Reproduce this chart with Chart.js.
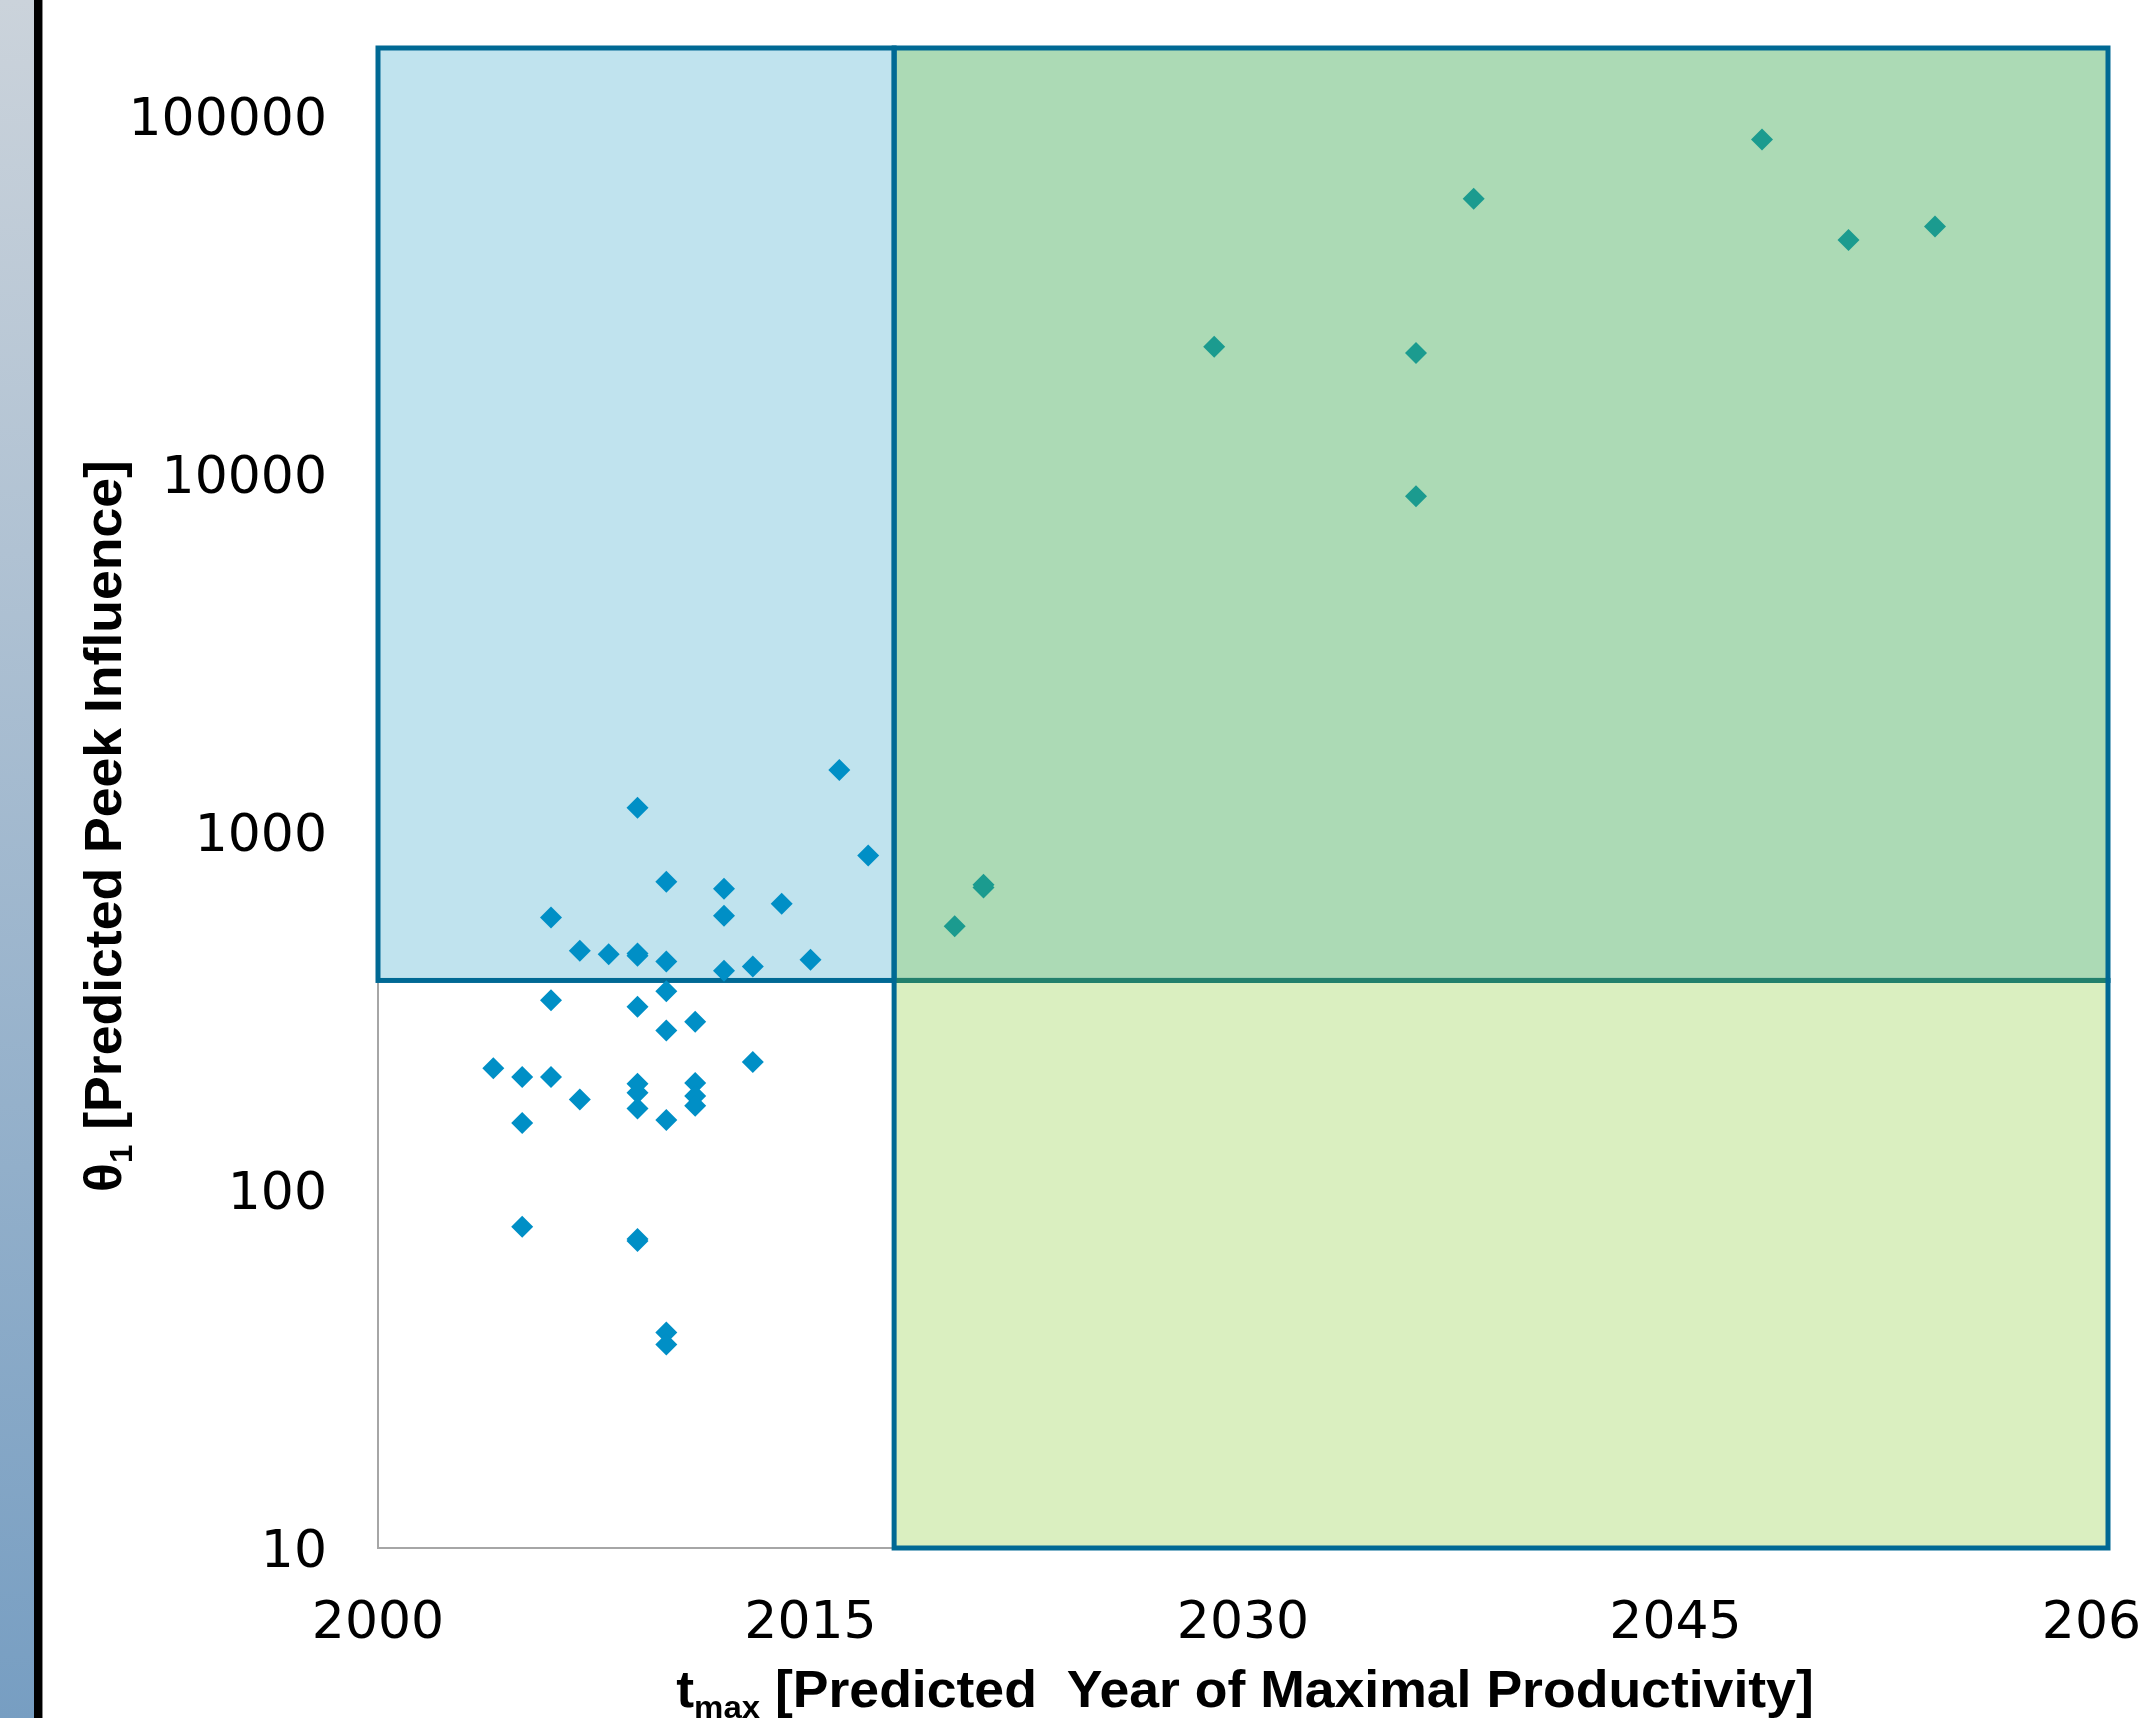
<!DOCTYPE html>
<html>
<head>
<meta charset="utf-8">
<script src="https://cdn.jsdelivr.net/npm/chart.js@4.4.4/dist/chart.umd.min.js"></script>
<style>
    html, body { margin: 0; padding: 0; background: #fff; overflow: hidden; width: 2139px; height: 1718px; }
    #strip { position: absolute; left: 0; top: 0; width: 34px; height: 1718px; background: linear-gradient(to bottom, #cbd3db, #779ec2); }
    #bar { position: absolute; left: 34px; top: 0; width: 8px; height: 1718px; background: #000; border-right: 1px solid #8a8a8a; }
    #chart { position: absolute; left: 0; top: 0; }
</style>
</head>
<body>
<div id="strip"></div>
<div id="bar"></div>
<canvas id="chart" width="2200" height="1760"></canvas>
<script>
// early-peak authors (before the divider)
const earlyYears = [2016, 2009, 2017, 2010, 2012, 2014, 2006, 2012, 2007, 2008, 2009, 2009, 2010, 2012, 2013, 2015,
    2006, 2010, 2009, 2011, 2010, 2013, 2004, 2005, 2006, 2007, 2009, 2009, 2009, 2011, 2011, 2011,
    2010, 2005, 2005, 2009, 2009, 2010, 2010];
const earlyPeaks = [1490, 1170, 860, 727, 695, 631, 577, 584, 466, 456, 458, 451, 435, 410, 421, 440,
    339, 359, 325, 295, 279, 228, 219, 207, 207, 179, 198, 187, 169, 199, 183, 172,
    157, 154, 79, 72, 73, 40, 37];

// late-peak authors
const lateYears = [2020, 2021, 2021, 2029, 2036, 2036, 2038, 2048, 2051, 2054];
const latePeaks = [546, 700, 712, 22700, 21800, 8670, 58800, 86000, 45100, 49200];

// axis ticks
const xTicks = [2000, 2015, 2030, 2045, 2060];
const yTicks = [10, 100, 1000, 10000, 100000];

// shaded quadrants: blue, green, yellow
const regionXFrom = [2000, 2017.9, 2017.9];
const regionXTo = [2017.9, 2060, 2060];
const regionYFrom = [385, 385, 10];
const regionYTo = [155000, 155000, 385];
const regionFills = ['#c0e3ee', '#acdab5', '#daefc0'];

const regionPlugin = {
    id: 'regions',
    beforeDatasetsDraw(chart) {
        const { ctx, scales: { x, y } } = chart;
        const boxes = regionXFrom.map((x0, i) => {
            const left = x.getPixelForValue(x0);
            const right = x.getPixelForValue(regionXTo[i]);
            const top = y.getPixelForValue(regionYTo[i]);
            const bottom = y.getPixelForValue(regionYFrom[i]);
            return { left, right, top, bottom };
        });
        ctx.save();
        boxes.forEach((b, i) => {
            ctx.fillStyle = regionFills[i];
            ctx.fillRect(b.left, b.top, b.right - b.left, b.bottom - b.top);
        });
        ctx.lineWidth = 5;
        ctx.strokeStyle = '#006994';
        boxes.forEach(b => ctx.strokeRect(b.left, b.top, b.right - b.left, b.bottom - b.top));
        // edge between green and yellow is a darker green
        const g = boxes[2];
        ctx.strokeStyle = '#22806c';
        ctx.beginPath();
        ctx.moveTo(g.left + 2.5, g.top);
        ctx.lineTo(g.right - 2.5, g.top);
        ctx.stroke();
        ctx.restore();
    }
};

const titlePlugin = {
    id: 'axisTitles',
    afterDraw(chart) {
        const { ctx, chartArea } = chart;
        const big = 'bold 52px "Liberation Sans", Arial, sans-serif';
        const small = 'bold 32px "Liberation Sans", Arial, sans-serif';
        const stretch = 1.03;

        function drawParts(parts, cx, cy) {
            let total = 0;
            parts.forEach(p => {
                ctx.font = p.sub ? small : big;
                p.w = ctx.measureText(p.text).width;
                total += p.w;
            });
            ctx.save();
            ctx.translate(cx, cy);
            ctx.scale(stretch, 1);
            let x = -total / 2;
            parts.forEach(p => {
                ctx.font = p.sub ? small : big;
                ctx.fillText(p.text, x, p.sub ? 11 : 0);
                x += p.w;
            });
            ctx.restore();
        }

        ctx.save();
        ctx.fillStyle = '#000';
        ctx.textBaseline = 'alphabetic';
        drawParts([{ text: 't' }, { text: 'max', sub: true }, { text: ' [Predicted  Year of Maximal Productivity]' }],
            (chartArea.left + chartArea.right) / 2 + 2, 1707);
        ctx.translate(121, 826);
        ctx.rotate(-Math.PI / 2);
        drawParts([{ text: 'θ' }, { text: '1', sub: true }, { text: ' [Predicted Peek Influence]' }], 0, 0);
        ctx.restore();
    }
};

const tickFont = { family: '"DejaVu Sans", Verdana, sans-serif', size: 52 };

new Chart(document.getElementById('chart').getContext('2d'), {
    type: 'scatter',
    data: {
        datasets: [{
            label: 'Early peak',
            data: earlyYears.map((yr, i) => ({ x: yr, y: earlyPeaks[i] })),
            backgroundColor: '#008fc6',
            borderWidth: 0,
            pointStyle: 'rectRot',
            pointRadius: 11
        }, {
            label: 'Late peak',
            data: lateYears.map((yr, i) => ({ x: yr, y: latePeaks[i] })),
            backgroundColor: '#1b9b8f',
            borderWidth: 0,
            pointStyle: 'rectRot',
            pointRadius: 11
        }]
    },
    options: {
        responsive: false,
        animation: false,
        layout: { padding: { left: 0, top: 48, right: 92, bottom: 0 } },
        plugins: { legend: { display: false }, tooltip: { enabled: false } },
        scales: {
            x: {
                type: 'linear',
                min: 2000,
                max: 2060,
                afterBuildTicks: scale => { scale.ticks = xTicks.map(v => ({ value: v })); },
                afterFit: scale => {
                    scale.height = 212;
                    scale.paddingLeft = 0;
                    scale.paddingRight = 0;
                },
                grid: { display: false, drawTicks: false },
                border: { display: true, color: '#a6a6a6', width: 2 },
                ticks: { font: tickFont, color: '#000', padding: 45, maxRotation: 0, callback: v => String(v) }
            },
            y: {
                type: 'logarithmic',
                min: 10,
                max: 155000,
                afterBuildTicks: scale => { scale.ticks = yTicks.map(v => ({ value: v })); },
                afterFit: scale => {
                    scale.width = 378;
                    scale.paddingTop = 0;
                    scale.paddingBottom = 0;
                },
                grid: { display: false, drawTicks: false },
                border: { display: true, color: '#a6a6a6', width: 2 },
                ticks: { font: tickFont, color: '#000', padding: 51, labelOffset: 5, callback: v => String(v) }
            }
        }
    },
    plugins: [regionPlugin, titlePlugin]
});
</script>
</body>
</html>
